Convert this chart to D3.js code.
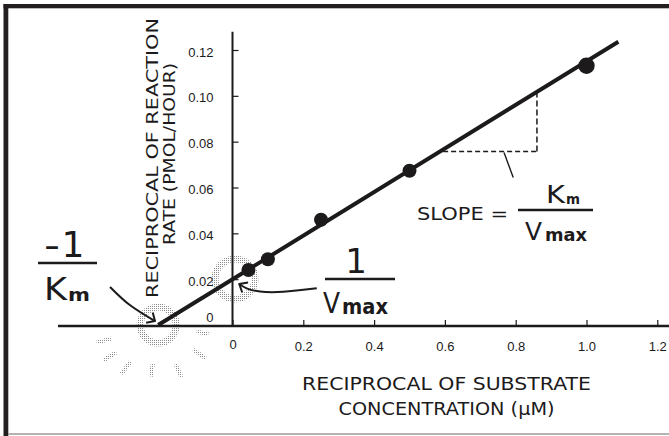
<!DOCTYPE html>
<html><head><meta charset="utf-8">
<script src="https://cdn.jsdelivr.net/npm/d3@7/dist/d3.min.js"></script>
<style>html,body{margin:0;padding:0;background:#fff;} svg{display:block;}</style>
</head><body><svg id="c" width="669" height="436"></svg>
<script>
// ---- data ----
const substrateRecip = [0.045, 0.1, 0.25, 0.5, 1.0];          // 1/[S]
const rateRecip      = [0.024, 0.0287, 0.0459, 0.0673, 0.1131]; // 1/v
const fitX = [-0.21, 1.09];
const fitY = [0, 0.1236];
const xTickValues = [0, 0.2, 0.4, 0.6, 0.8, 1.0, 1.2];
const xTickLabels = ["0", "0.2", "0.4", "0.6", "0.8", "1.0", "1.2"];
const yTickValues = [0, 0.02, 0.04, 0.06, 0.08, 0.10, 0.12];
const yTickLabels = ["0", "0.02", "0.04", "0.06", "0.08", "0.10", "0.12"];
const xTitle = ["RECIPROCAL OF SUBSTRATE", "CONCENTRATION (\u03bcM)"];
const yTitle = ["RECIPROCAL OF REACTION", "RATE (PMOL/HOUR)"];
const xAxisExtent = [-0.493, 1.233];
const yAxisTop = 0.128;
const slopeRunX = [0.595, 0.86];
const slopeRunY = 0.0757;
const kmArrow = [[-0.346, 0.0166], [-0.29, 0.0087], [-0.219, 0.0017]];
const vmaxArrow = [[0.238, 0.016], [0.143, 0.0145], [0.078, 0.0146], [0.04, 0.016], [0.019, 0.0179]];
const slopePointer = [[0.767, 0.0753], [0.793, 0.0644]];
const xIntercept = [-0.21, 0];
const yIntercept = [0.007, 0.0201];
// glow rays around x-intercept: [angle deg, inner radius px, outer radius px]
const rays = [[164, 49, 64], [147, 50, 65], [127, 46, 61], [98, 39, 52], [66, 43, 57], [35, 43, 58], [10, 39, 51]];

// ---- scales ----
const x = d3.scaleLinear().domain([0, 1]).range([232.5, 586.5]);
const y = d3.scaleLinear().domain([0, 0.12]).range([325, 50]);

const ink = "#1c1a1b";
const svg = d3.select("#c");
const defs = svg.append("defs");
const pat = defs.append("pattern").attr("id", "stip").attr("width", 2).attr("height", 2)
  .attr("patternUnits", "userSpaceOnUse");
pat.append("rect").attr("width", 1).attr("height", 1).attr("fill", "#8a8a8a");

// frame
svg.append("rect").attr("x", 3.5).attr("y", 4).attr("width", 4.8).attr("height", 432).attr("fill", "#231f20");
svg.append("rect").attr("x", 3.5).attr("y", 4).attr("width", 666).attr("height", 4.3).attr("fill", "#231f20");
svg.append("line").attr("x1", 8).attr("x2", 669).attr("y1", 434).attr("y2", 434).attr("stroke", "#9a9a9a").attr("stroke-width", 1.6);

// stipple glows
svg.append("circle").attr("cx", x(xIntercept[0])).attr("cy", y(xIntercept[1])).attr("r", 18)
  .attr("fill", "none").attr("stroke", "url(#stip)").attr("stroke-width", 7);
svg.append("circle").attr("cx", x(yIntercept[0])).attr("cy", y(yIntercept[1])).attr("r", 20)
  .attr("fill", "none").attr("stroke", "url(#stip)").attr("stroke-width", 7);
svg.append("g").selectAll("line").data(rays).join("line")
  .attr("x1", d => x(xIntercept[0]) + d[1] * Math.cos(d[0] * Math.PI / 180))
  .attr("y1", d => y(xIntercept[1]) + d[1] * Math.sin(d[0] * Math.PI / 180))
  .attr("x2", d => x(xIntercept[0]) + d[2] * Math.cos(d[0] * Math.PI / 180))
  .attr("y2", d => y(xIntercept[1]) + d[2] * Math.sin(d[0] * Math.PI / 180))
  .attr("stroke", "url(#stip)").attr("stroke-width", 4);

// x axis
const gx = svg.append("g").attr("transform", `translate(0,${y(0)})`)
  .call(d3.axisBottom(x).tickValues(xTickValues).tickSizeInner(-5).tickSizeOuter(0)
    .tickFormat((d, i) => xTickLabels[i]));
gx.select(".domain").remove();
gx.selectAll(".tick line").attr("stroke", ink).attr("stroke-width", 1.2);
gx.selectAll(".tick text").attr("y", 26).attr("dy", 0)
  .attr("font-family", "Liberation Sans, Arial, sans-serif").attr("font-size", 13).attr("fill", ink);
gx.selectAll(".tick").filter(d => d === 0).select("text").attr("y", 24);
svg.append("line").attr("x1", x(xAxisExtent[0])).attr("x2", x(xAxisExtent[1]))
  .attr("y1", y(0) + 1).attr("y2", y(0) + 1).attr("stroke", ink).attr("stroke-width", 2.5);

// y axis
const gy = svg.append("g").attr("transform", `translate(${x(0)},0)`)
  .call(d3.axisRight(y).tickValues(yTickValues).tickSize(6).tickFormat((d, i) => yTickLabels[i]));
gy.select(".domain").remove();
gy.selectAll(".tick line").attr("stroke", ink).attr("stroke-width", 1.2);
gy.selectAll(".tick").filter(d => d === 0).select("line").remove();
gy.selectAll(".tick text").attr("x", -19).attr("text-anchor", "end").attr("dy", "0.35em")
  .attr("transform", "translate(0,1.5)")
  .attr("font-family", "Liberation Sans, Arial, sans-serif").attr("font-size", 13).attr("fill", ink);
gy.selectAll(".tick").filter(d => d === 0).select("text").attr("transform", "translate(0,-8)");
svg.append("line").attr("x1", x(0)).attr("x2", x(0)).attr("y1", y(yAxisTop)).attr("y2", y(0) + 1)
  .attr("stroke", ink).attr("stroke-width", 2);

// fitted line
svg.append("path").datum(fitX.map((v, i) => [v, fitY[i]]))
  .attr("d", d3.line().x(d => x(d[0])).y(d => y(d[1])))
  .attr("stroke", ink).attr("stroke-width", 4).attr("fill", "none");

// points
svg.append("g").selectAll("circle").data(substrateRecip).join("circle")
  .attr("cx", d => x(d)).attr("cy", (d, i) => y(rateRecip[i]))
  .attr("r", (d, i) => i === substrateRecip.length - 1 ? 8.2 : 7)
  .attr("fill", ink);

// slope triangle
const lineAt = v => fitY[0] + (fitY[1] - fitY[0]) * (v - fitX[0]) / (fitX[1] - fitX[0]);
svg.append("path")
  .attr("d", `M${x(slopeRunX[0])},${y(slopeRunY)}H${x(slopeRunX[1])}`)
  .attr("stroke", ink).attr("stroke-width", 1.5).attr("stroke-dasharray", "5,3").attr("fill", "none");
svg.append("path")
  .attr("d", `M${x(slopeRunX[1])},${y(slopeRunY)}V${y(lineAt(slopeRunX[1]))}`)
  .attr("stroke", ink).attr("stroke-width", 1.5).attr("stroke-dasharray", "6,3").attr("fill", "none");
svg.append("path").datum(slopePointer)
  .attr("d", d3.line().x(d => x(d[0])).y(d => y(d[1])))
  .attr("stroke", ink).attr("stroke-width", 1.4).attr("fill", "none");

// arrows
function arrow(pts, headLen, spread) {
  const p = pts.map(d => [x(d[0]), y(d[1])]);
  svg.append("path").attr("d", d3.line().curve(d3.curveNatural)(p))
    .attr("stroke", ink).attr("stroke-width", 2).attr("fill", "none");
  const a = p[p.length - 1], b = p[p.length - 2];
  const ang = Math.atan2(b[1] - a[1], b[0] - a[0]);
  const h = [ang - spread, ang + spread].map(t => [a[0] + headLen * Math.cos(t), a[1] + headLen * Math.sin(t)]);
  svg.append("path").attr("d", `M${h[0][0]},${h[0][1]}L${a[0]},${a[1]}L${h[1][0]},${h[1][1]}`)
    .attr("stroke", ink).attr("stroke-width", 2).attr("fill", "none").attr("stroke-linejoin", "round");
}
arrow(kmArrow, 9, 0.75);
arrow(vmaxArrow, 9, 0.7);

// axis titles
const titleFont = "DejaVu Sans, Verdana, sans-serif";
svg.append("text").attr("x", 446.5).attr("y", 389.5).attr("text-anchor", "middle")
  .attr("font-family", titleFont).attr("font-size", 17).attr("fill", ink)
  .attr("textLength", 289).attr("lengthAdjust", "spacingAndGlyphs").text(xTitle[0]);
svg.append("text").attr("x", 446.5).attr("y", 415).attr("text-anchor", "middle")
  .attr("font-family", titleFont).attr("font-size", 17).attr("fill", ink)
  .attr("textLength", 216).attr("lengthAdjust", "spacingAndGlyphs").text(xTitle[1]);
svg.append("text").attr("transform", "translate(158.3,158) rotate(-90)").attr("text-anchor", "middle")
  .attr("font-family", titleFont).attr("font-size", 16.5).attr("fill", ink)
  .attr("textLength", 280).attr("lengthAdjust", "spacingAndGlyphs").text(yTitle[0]);
svg.append("text").attr("transform", "translate(175.3,154) rotate(-90)").attr("text-anchor", "middle")
  .attr("font-family", titleFont).attr("font-size", 16.5).attr("fill", ink)
  .attr("textLength", 182).attr("lengthAdjust", "spacingAndGlyphs").text(yTitle[1]);

// annotation texts
const hand = "DejaVu Sans, sans-serif";
function txt(tx, ty, s, size, opts = {}) {
  const t = svg.append("text").attr("x", tx).attr("y", ty).attr("font-family", hand)
    .attr("font-size", size).attr("fill", ink).attr("text-anchor", opts.anchor || "start")
    .attr("font-weight", opts.weight || "normal").text(s);
  if (opts.len) t.attr("textLength", opts.len).attr("lengthAdjust", "spacingAndGlyphs");
  return t;
}
function bar(x1, x2, yy) {
  svg.append("line").attr("x1", x1).attr("x2", x2).attr("y1", yy).attr("y2", yy)
    .attr("stroke", ink).attr("stroke-width", 2.3);
}
// -1 / Km
txt(44, 257, "-", 36, { len: 16 });
txt(73, 257, "1", 36, { anchor: "middle" });
bar(38, 97, 263);
txt(44, 300, "K", 32, { len: 23 });
txt(68, 301, "m", 18, { weight: "bold", len: 22 });
// 1 / Vmax
txt(356, 273, "1", 34, { anchor: "middle" });
bar(325, 395, 279);
txt(323, 313, "V", 28, { len: 17 });
txt(342, 314, "max", 22, { weight: "bold", len: 46 });
// slope = Km / Vmax
txt(417, 220, "SLOPE =", 18, { len: 91 }).attr("font-family", titleFont);
txt(546, 203, "K", 25, { len: 19 });
txt(566, 203.5, "m", 14, { weight: "bold", len: 14 });
bar(518, 593, 210);
txt(525, 240, "V", 25, { len: 17 });
txt(545, 240.5, "max", 18, { weight: "bold", len: 42 });
</script>
</body></html>
